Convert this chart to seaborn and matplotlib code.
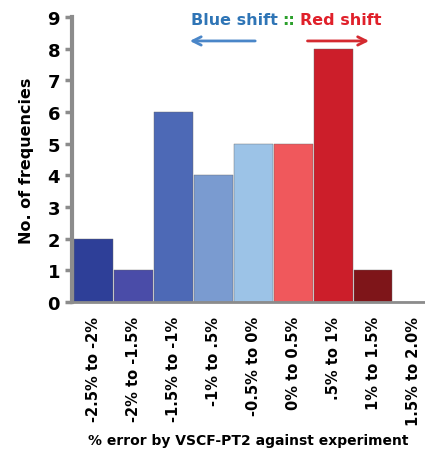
import seaborn as sns
import matplotlib.pyplot as plt
import pandas as pd

sns.set_style("white")
plt.rcParams['text.color'] = 'black'
plt.rcParams['axes.labelcolor'] = 'black'
plt.rcParams['xtick.color'] = 'black'
plt.rcParams['ytick.color'] = 'black'

# bins of % error and how many modes fall in each
bins = ['-2.5% to -2%', '-2% to -1.5%', '-1.5% to -1%', '-1% to .5%', '-0.5% to 0%',
        '0% to 0.5%', '.5% to 1%', '1% to 1.5%', '1.5% to 2.0%']
counts = [2, 1, 6, 4, 5, 5, 8, 1, 0]
colors = ['#2E3F98', '#4A4CA8', '#4D69B6', '#7A9BD0', '#9CC3E7',
          '#F0585C', '#CC1E2A', '#7E1519', '#FFFFFF']

df = pd.DataFrame({'bin': bins, 'count': counts})

fig = plt.figure(figsize=(4.25, 4.56), dpi=100)
ax = fig.add_axes([0.169, 0.3355, 0.831, 0.625])

sns.barplot(data=df, x='bin', y='count', hue='bin', palette=colors, legend=False,
            width=0.97, edgecolor='#666666', linewidth=0.3, saturation=1, ax=ax)

ax.set_xlim(-0.55, 8.3)
ax.set_ylim(0, 9)
ax.set_yticks(range(10))
ax.tick_params(axis='y', labelsize=13, length=5, width=2.5, color='#8C8C8C', direction='out',
               left=True, labelcolor='black')
ax.tick_params(axis='x', labelsize=10.5, length=0, pad=10, labelcolor='black')
for lab in ax.get_yticklabels():
    lab.set_fontweight('bold')
for lab in ax.get_xticklabels():
    lab.set_fontweight('bold')
    lab.set_rotation(90)

for side in ['top', 'right']:
    ax.spines[side].set_visible(False)
ax.spines['left'].set_color('#8C8C8C')
ax.spines['left'].set_linewidth(3)
ax.spines['bottom'].set_color('#8C8C8C')
ax.spines['bottom'].set_linewidth(2)

ax.set_ylabel('No. of frequencies', fontsize=11.5, fontweight='bold', labelpad=10)
ax.set_xlabel('% error by VSCF-PT2 against experiment', fontsize=10, fontweight='bold', labelpad=6)

# shift annotation
fig.text(0.654, 0.956, 'Blue shift', color='#2F75B6', fontsize=11.5, fontweight='bold', ha='right', va='center')
fig.text(0.680, 0.956, '::', color='#2CA02C', fontsize=11.5, fontweight='bold', ha='center', va='center')
fig.text(0.706, 0.956, 'Red shift', color='#E0202A', fontsize=11.5, fontweight='bold', ha='left', va='center')
ax.annotate('', xy=(0.44, 0.908), xytext=(0.607, 0.908), xycoords='figure fraction',
            arrowprops=dict(arrowstyle='->', color='#4A86C8', lw=2, mutation_scale=15))
ax.annotate('', xy=(0.875, 0.908), xytext=(0.717, 0.908), xycoords='figure fraction',
            arrowprops=dict(arrowstyle='->', color='#D42A30', lw=2, mutation_scale=15))

fig.savefig('out.png', dpi=100)
